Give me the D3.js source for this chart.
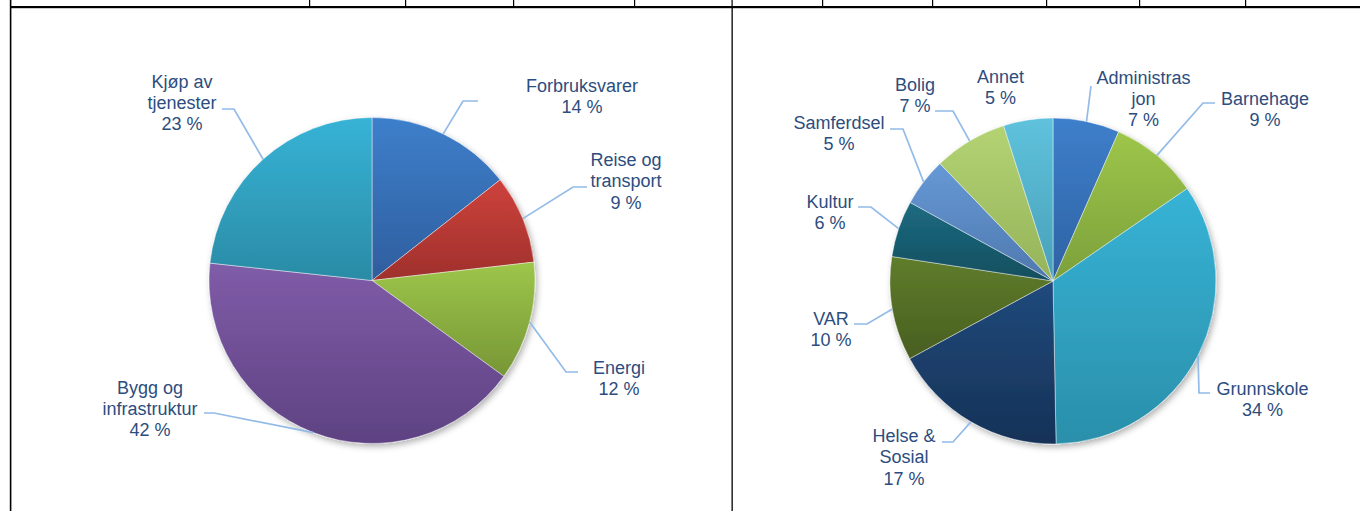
<!DOCTYPE html>
<html>
<head>
<meta charset="utf-8">
<script src="https://cdn.jsdelivr.net/npm/d3@7/dist/d3.min.js"></script>
<style>
  html, body { margin: 0; padding: 0; background: #fff; }
  svg { display: block; }
  text { font-family: "Liberation Sans", Arial, sans-serif; }
</style>
</head>
<body>
<script>
// ---------- DATA ----------
const leftCategories = ["Forbruksvarer", "Reise og\ntransport", "Energi", "Bygg og\ninfrastruktur", "Kjøp av\ntjenester"];
const leftValues = [14.4, 8.8, 11.8, 41.7, 23.3];

const rightCategories = ["Administras\njon", "Barnehage", "Grunnskole", "Helse &\nSosial", "VAR", "Kultur", "Samferdsel", "Bolig", "Annet"];
const rightValues = [6.6, 8.8, 34.3, 17.4, 10.3, 5.6, 4.8, 7.3, 4.9];

// ---------- STYLES ----------
const leftColors = [["#3E7FCB", "#2E5E9E"], ["#CE423C", "#9E302C"], ["#9DC64A", "#779636"], ["#805CA8", "#5E4282"], ["#37B3D6", "#2A8BA5"]];
const rightColors = [["#3E7FCB", "#2E62A3"], ["#9DC64A", "#7CA03B"], ["#37B3D6", "#2A8FAA"], ["#204A7C", "#163257"], ["#5F7D2C", "#485E1F"], ["#1C6B82", "#144E5E"], ["#6699D6", "#4F78AE"], ["#B3D373", "#95B35A"], ["#5FC2DD", "#48A0B8"]];
const textColor = "#2C4D7E";
const leaderColor = "#93BBE8";

// ---------- LAYOUT ----------
const W = 1360, H = 511;
const leftPie = { cx: 372, cy: 280.5, r: 163 };
const rightPie = { cx: 1053, cy: 281, r: 163 };
// label center x, first baseline y, leader elbow & hook end
const leftLabelLayout = [
  { x: 582, y: 92, elbow: [463, 101], end: [478, 101] },
  { x: 626, y: 166, elbow: [573, 187], end: [587, 187] },
  { x: 619, y: 373.5, elbow: [566, 372], end: [578, 372] },
  { x: 150, y: 393.5, elbow: [214, 413], end: [204, 413] },
  { x: 182, y: 87.5, elbow: [234, 109], end: [222, 109] }
];
const rightLabelLayout = [
  { x: 1143.5, y: 83.5, elbow: [1091, 86], end: null },
  { x: 1265, y: 104.5, elbow: [1203, 103], end: [1215, 103] },
  { x: 1262.5, y: 394.5, elbow: [1199, 393], end: [1210, 393] },
  { x: 904, y: 442, elbow: [953, 442], end: [942, 442] },
  { x: 831, y: 325, elbow: [867, 324], end: [854, 324] },
  { x: 830, y: 207.5, elbow: [871, 207], end: [858, 207] },
  { x: 839, y: 129, elbow: [903, 129], end: [890, 129] },
  { x: 915, y: 91, elbow: [953, 111], end: [935, 111] },
  { x: 1000.5, y: 82.5, elbow: null, end: null }
];
const lineH = 21.3;
const fontSize = 18;

// ---------- SVG ----------
const svg = d3.select("body").append("svg").attr("width", W).attr("height", H);
const defs = svg.append("defs");

const shadow = defs.append("filter").attr("id", "pieShadow")
  .attr("x", "-20%").attr("y", "-20%").attr("width", "140%").attr("height", "140%");
shadow.append("feDropShadow").attr("dx", 2).attr("dy", 3).attr("stdDeviation", 3)
  .attr("flood-color", "#000").attr("flood-opacity", 0.3);

// table borders
const frame = svg.append("g");
frame.append("rect").attr("x", 11).attr("y", 6).attr("width", W - 11).attr("height", 2.2).attr("fill", "#000");
frame.append("rect").attr("x", 9.8).attr("y", 0).attr("width", 1.6).attr("height", H).attr("fill", "#000");
frame.append("rect").attr("x", 731.5).attr("y", 7).attr("width", 1.3).attr("height", H).attr("fill", "#000");
const topTicks = [309, 405, 513, 634, 731.5, 822, 932, 1046, 1139, 1245];
frame.selectAll("rect.tick").data(topTicks).join("rect").attr("class", "tick")
  .attr("x", d => d).attr("y", 0).attr("width", 1.2).attr("height", 7).attr("fill", "#000");

function drawPie(id, categories, values, colors, geom, layout) {
  const total = d3.sum(values);
  const pie = d3.pie().sort(null).value(d => d).startAngle(0).endAngle(2 * Math.PI);
  const arcs = pie(values);
  const arc = d3.arc().innerRadius(0).outerRadius(geom.r);
  const edgeArc = d3.arc().innerRadius(geom.r).outerRadius(geom.r);

  colors.forEach((c, i) => {
    const g = defs.append("linearGradient").attr("id", `${id}-g${i}`)
      .attr("x1", 0).attr("y1", 0).attr("x2", 0).attr("y2", 1);
    g.append("stop").attr("offset", "0%").attr("stop-color", c[0]);
    g.append("stop").attr("offset", "100%").attr("stop-color", c[1]);
  });

  const g = svg.append("g").attr("transform", `translate(${geom.cx},${geom.cy})`);
  g.append("g").attr("filter", "url(#pieShadow)")
    .selectAll("path").data(arcs).join("path")
    .attr("d", arc)
    .attr("fill", (d, i) => `url(#${id}-g${i})`)
    .attr("stroke", "rgba(255,255,255,0.55)")
    .attr("stroke-width", 0.8);

  // leader lines
  const lg = svg.append("g");
  arcs.forEach((d, i) => {
    const L = layout[i];
    if (!L.elbow) return;
    const c = edgeArc.centroid(d);
    const pts = [[geom.cx + c[0], geom.cy + c[1]], L.elbow];
    if (L.end) pts.push(L.end);
    lg.append("path").attr("d", d3.line()(pts))
      .attr("fill", "none").attr("stroke", leaderColor).attr("stroke-width", 1.7);
  });

  // labels
  const tg = svg.append("g");
  arcs.forEach((d, i) => {
    const L = layout[i];
    const lines = categories[i].split("\n").concat([Math.round(values[i] / total * 100) + " %"]);
    const t = tg.append("text").attr("x", L.x).attr("y", L.y)
      .attr("text-anchor", "middle").attr("fill", textColor).attr("font-size", fontSize);
    lines.forEach((s, k) => {
      t.append("tspan").attr("x", L.x).attr("y", L.y + k * lineH).text(s);
    });
  });
}

drawPie("L", leftCategories, leftValues, leftColors, leftPie, leftLabelLayout);
drawPie("R", rightCategories, rightValues, rightColors, rightPie, rightLabelLayout);
</script>
</body>
</html>
